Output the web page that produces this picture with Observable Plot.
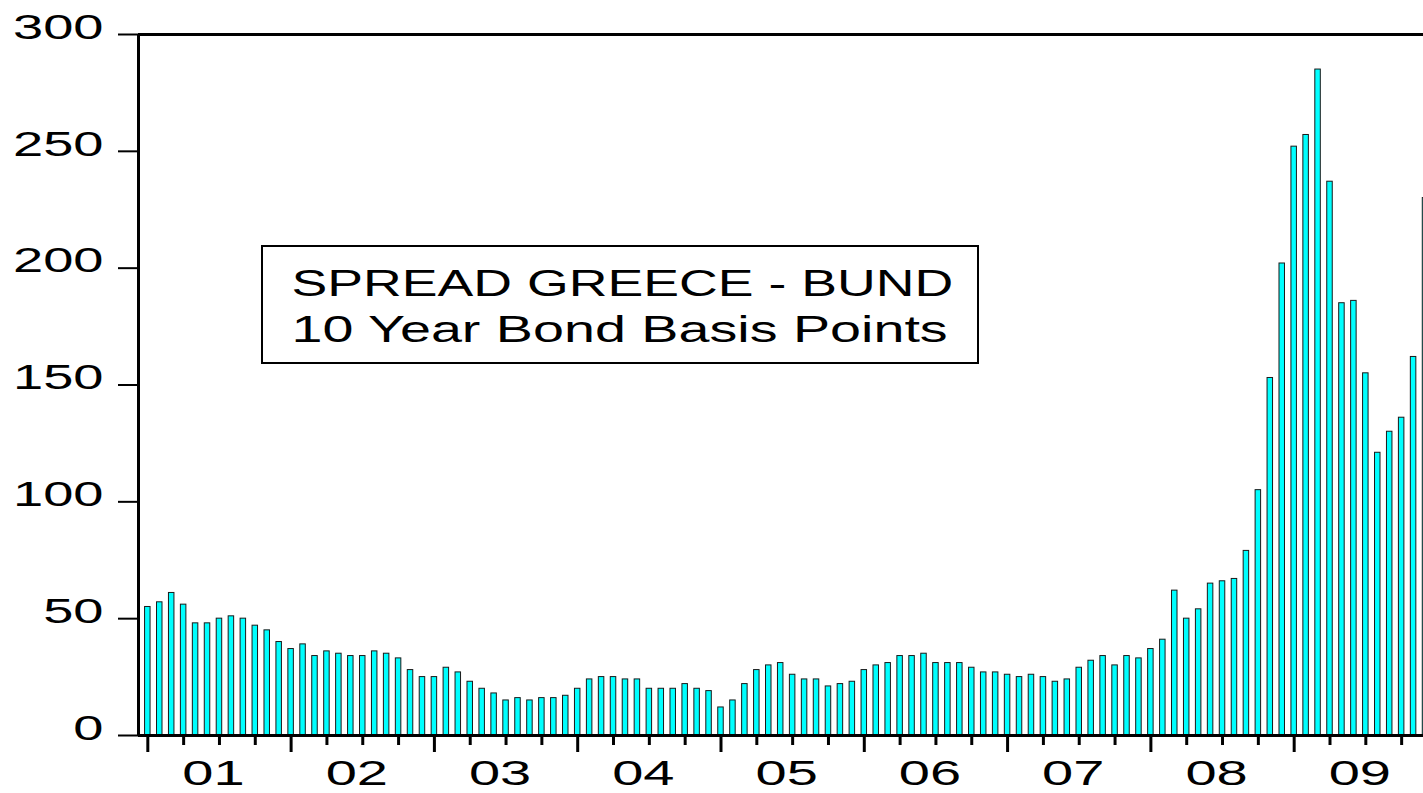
<!DOCTYPE html>
<html><head><meta charset="utf-8">
<script src="https://cdn.jsdelivr.net/npm/d3@7"></script>
<script src="https://cdn.jsdelivr.net/npm/@observablehq/plot@0.6"></script>
<style>
html,body{margin:0;padding:0;background:#fff;overflow:hidden;}
#chart svg{display:block;}
</style></head><body><div id="chart"></div>
<script>
// Monthly spread Greece - Bund, 10 year bond, basis points (Jan 2001 - Dec 2009)
const spread2001 = [55, 57, 61, 56, 48, 48, 50, 51, 50, 47, 45, 40];
const spread2002 = [37, 39, 34, 36, 35, 34, 34, 36, 35, 33, 28, 25];
const spread2003 = [25, 29, 27, 23, 20, 18, 15, 16, 15, 16, 16, 17];
const spread2004 = [20, 24, 25, 25, 24, 24, 20, 20, 20, 22, 20, 19];
const spread2005 = [12, 15, 22, 28, 30, 31, 26, 24, 24, 21, 22, 23];
const spread2006 = [28, 30, 31, 34, 34, 35, 31, 31, 31, 29, 27, 27];
const spread2007 = [26, 25, 26, 25, 23, 24, 29, 32, 34, 30, 34, 33];
const spread2008 = [37, 41, 62, 50, 54, 65, 66, 67, 79, 105, 153, 202];
const spread2009 = [252, 257, 285, 237, 185, 186, 155, 121, 130, 136, 162, 230];

const yearLabels = ["01", "02", "03", "04", "05", "06", "07", "08", "09"];
const yTicks = [0, 50, 100, 150, 200, 250, 300];
const titleLine1 = "SPREAD GREECE - BUND";
const titleLine2 = "10 Year Bond Basis Points";

const values = [].concat(spread2001, spread2002, spread2003, spread2004, spread2005,
                         spread2006, spread2007, spread2008, spread2009);
const data = values.map((v, i) => ({i, v}));

// ticks: year starts (major), quarters (minor), labels centred on each year's span of bars
const majorTicks = yearLabels.map((_, k) => 12 * k);
const minorTicks = d3.range(0, values.length, 3).filter(i => i % 12 !== 0);
const labelTicks = yearLabels.map((_, k) => 12 * k + 5.5);

const xDomain = [-0.78, 106.83];

const plot = Plot.plot({
  width: 1423, height: 793,
  marginLeft: 138, marginRight: 0, marginTop: 34, marginBottom: 58,
  x: {type: "linear", domain: xDomain},
  y: {domain: [0, 300]},
  style: {fontFamily: "'Liberation Sans', Arial, sans-serif", background: "#fff", color: "#000", overflow: "hidden"},
  marks: [
    Plot.rectY(data, {x1: d => d.i - 0.23, x2: d => d.i + 0.23, y: "v", fill: "#00FFFF", stroke: "#1a1a1a", strokeWidth: 1, clip: true}),
    Plot.ruleY([0], {strokeWidth: 3}),
    Plot.ruleY([300], {strokeWidth: 3}),
    Plot.ruleX([xDomain[0]], {strokeWidth: 3}),
    Plot.axisY(yTicks, {tickSize: 20, strokeWidth: 2, tickFormat: () => "", label: null}),
    Plot.axisY(yTicks, {tickSize: 0, tickPadding: 35, fontSize: 35, dy: -7, label: null}),
    Plot.axisX(majorTicks, {tickSize: 17, strokeWidth: 3, tickFormat: () => "", label: null}),
    Plot.axisX(minorTicks, {tickSize: 10, strokeWidth: 3, tickFormat: () => "", label: null}),
    Plot.axisX(labelTicks, {tickSize: 0, tickPadding: 25, fontSize: 35, tickFormat: d => yearLabels[(d - 5.5) / 12], label: null}),
    Plot.text([titleLine1], {frameAnchor: "top-left", dx: 153, dy: 261, textAnchor: "start", lineAnchor: "bottom", fontSize: 37}),
    Plot.text([titleLine2], {frameAnchor: "top-left", dx: 153, dy: 307, textAnchor: "start", lineAnchor: "bottom", fontSize: 37})
  ]
});

document.getElementById("chart").appendChild(plot);

// horizontal stretch of the lettering (as in the original graphic)
function stretchTexts(root, sx) {
  root.querySelectorAll("text").forEach(t => {
    let tr = t.getAttribute("transform") || "";
    const x = t.getAttribute("x");
    if (x !== null && !/em/.test(x)) { tr += ` translate(${x},0)`; t.removeAttribute("x"); }
    t.setAttribute("transform", `${tr} scale(${sx},1)`);
  });
}
plot.querySelectorAll('g[aria-label="y-axis tick label"]').forEach(g => stretchTexts(g, 1.55));
plot.querySelectorAll('g[aria-label="x-axis tick label"]').forEach(g => stretchTexts(g, 1.6));
const textGroups = plot.querySelectorAll('g[aria-label="text"]');
stretchTexts(textGroups[0], 1.45);
stretchTexts(textGroups[1], 1.505);

// annotation box around the title text
const box = d3.create("svg:rect")
  .attr("x", 262).attr("y", 246).attr("width", 716).attr("height", 117)
  .attr("fill", "#fff").attr("stroke", "#000").attr("stroke-width", 2).node();
plot.insertBefore(box, textGroups[0]);
</script></body></html>
